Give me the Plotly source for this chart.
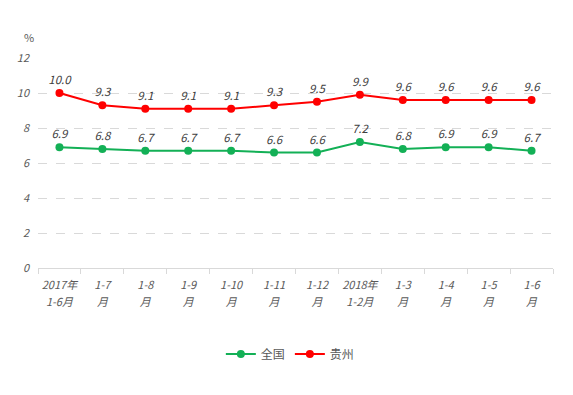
import plotly.graph_objects as go

categories = ["2017年<br>1-6月", "1-7<br>月", "1-8<br>月", "1-9<br>月", "1-10<br>月", "1-11<br>月",
              "1-12<br>月", "2018年<br>1-2月", "1-3<br>月", "1-4<br>月", "1-5<br>月", "1-6<br>月"]
national = [6.9, 6.8, 6.7, 6.7, 6.7, 6.6, 6.6, 7.2, 6.8, 6.9, 6.9, 6.7]
guizhou = [10.0, 9.3, 9.1, 9.1, 9.1, 9.3, 9.5, 9.9, 9.6, 9.6, 9.6, 9.6]
y_ticks = [0, 2, 4, 6, 8, 10, 12]

FONT = "Noto Sans CJK SC"
GRAY = "#595959"

def small(label):
    parts = label.split("<br>")
    return "<br>".join(f"<span style='font-size:11px'>{p}</span>" for p in parts)

fig = go.Figure()
for name, vals, color in [("全国", national, "#13B056"), ("贵州", guizhou, "#FF0000")]:
    fig.add_trace(go.Scatter(
        x=categories, y=vals, name=name,
        mode="lines+markers+text",
        line=dict(color=color, width=2),
        marker=dict(color=color, size=8),
        text=[f"<i>{v:.1f}</i>" for v in vals],
        textposition="top center",
        textfont=dict(family=FONT, size=11.5, color="#404040"),
        cliponaxis=False,
    ))

fig.update_layout(
    width=573, height=395,
    margin=dict(l=30, r=28, t=50, b=135),
    paper_bgcolor="white", plot_bgcolor="white",
    font=dict(family=FONT, size=11, color=GRAY),
    showlegend=True,
    legend=dict(orientation="h", x=0.49, y=-0.41, xanchor="center", yanchor="middle",
                font=dict(size=12, color=GRAY), itemwidth=30),
    xaxis=dict(
        type="category", tickson="boundaries", ticks="outside", ticklen=5,
        tickcolor="#D9D9D9", showline=True, linecolor="#D9D9D9", linewidth=1,
        showgrid=False, tickfont=dict(size=13, color=GRAY, style="italic"),
        tickvals=categories, ticktext=[small(c) for c in categories],
        tickangle=0, automargin=False, ticklabelstandoff=4,
        range=[-0.5, len(categories) - 0.5],
    ),
    yaxis=dict(
        range=[0, 12], tickvals=y_ticks, ticktext=[f"<i>{t}</i>" for t in y_ticks],
        showgrid=True, gridcolor="#D9D9D9", griddash="dash", gridwidth=1,
        zeroline=False, showline=False, ticks="", ticklabelstandoff=8,
        tickfont=dict(size=11, color=GRAY), automargin=False,
    ),
    annotations=[dict(text="%", xref="paper", yref="paper", x=-0.031, y=1.148,
                      showarrow=False, font=dict(size=11, color=GRAY))],
)

fig.write_html("out.html")
